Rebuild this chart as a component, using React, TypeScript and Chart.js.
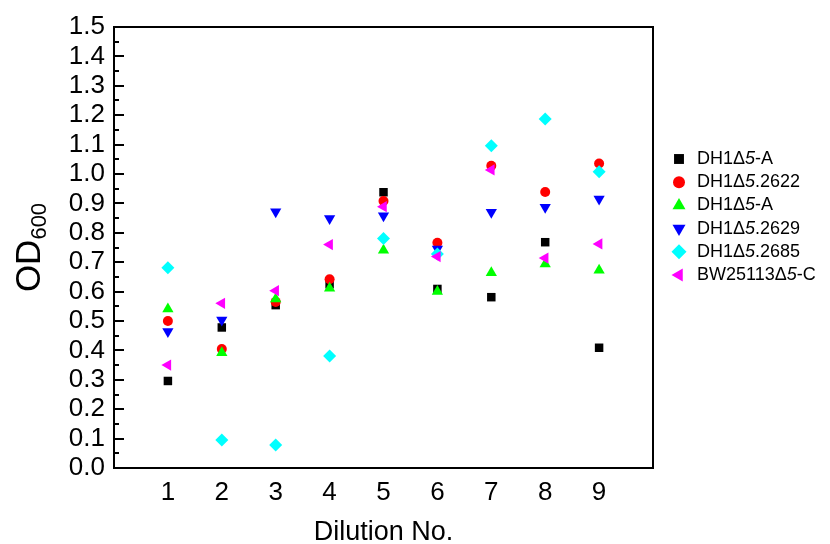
import React, { useEffect, useRef } from 'react';
import { Chart, registerables } from 'chart.js';
import { drawPoint } from 'chart.js/helpers';

Chart.register(...registerables);

// ---- Data ----
const dilutionNo = [1, 2, 3, 4, 5, 6, 7, 8, 9];
const dh1A = [0.296, 0.478, 0.554, 0.625, 0.938, 0.609, 0.581, 0.768, 0.409];
const dh1_2622 = [0.5, 0.405, 0.565, 0.642, 0.908, 0.766, 1.028, 0.939, 1.036];
const dh1A_b = [0.541, 0.392, 0.575, 0.611, 0.741, 0.6, 0.664, 0.694, 0.673];
const dh1_2629 = [0.464, 0.503, 0.872, 0.849, 0.858, 0.745, 0.87, 0.887, 0.915];
const dh1_2685 = [0.681, 0.095, 0.078, 0.381, 0.781, 0.728, 1.096, 1.187, 1.008];
const bw25113C = [0.35, 0.56, 0.603, 0.76, 0.889, 0.719, 1.014, 0.714, 0.762];

const seriesNames = ['DH1Δ5-A', 'DH1Δ5.2622', 'DH1Δ5-A', 'DH1Δ5.2629', 'DH1Δ5.2685', 'BW25113Δ5-C'];
const seriesValues = [dh1A, dh1_2622, dh1A_b, dh1_2629, dh1_2685, bw25113C];
const seriesColors = ['#000000', '#ff0000', '#00ff00', '#0000ff', '#00ffff', '#ff00ff'];
const seriesStyles = ['rect', 'circle', 'triangle', 'triangle', 'rectRot', 'triangle'];
const seriesRotation = [0, 0, 0, 180, 0, 270];
const seriesRadius = [6, 5, 6.5, 6.5, 6.5, 6.5];

const yTickLabels = ['0.0', '0.1', '0.2', '0.3', '0.4', '0.5', '0.6', '0.7', '0.8', '0.9', '1.0', '1.1', '1.2', '1.3', '1.4', '1.5'];
const xTickLabels = ['1', '2', '3', '4', '5', '6', '7', '8', '9'];

const FONT = "'Liberation Sans', Arial, sans-serif";

const decorPlugin = {
  id: 'decor',
  afterDraw(chart: any) {
    const ctx = chart.ctx;
    const { left, right, top, bottom } = chart.chartArea;
    const yScale = chart.scales.y;
    ctx.save();
    // frame
    ctx.strokeStyle = '#000';
    ctx.lineWidth = 2;
    ctx.strokeRect(left, top, right - left, bottom - top);
    // inward y ticks (major + minor)
    for (let i = 0; i <= 30; i++) {
      const py = Math.round(yScale.getPixelForValue(i * 0.05));
      const len = i % 2 === 0 ? 10 : 5;
      ctx.beginPath();
      ctx.moveTo(left, py);
      ctx.lineTo(left + len, py);
      ctx.stroke();
    }
    // x title
    ctx.fillStyle = '#000';
    ctx.font = `27px ${FONT}`;
    ctx.textAlign = 'center';
    ctx.textBaseline = 'alphabetic';
    ctx.fillText('Dilution No.', (left + right) / 2, 540);
    // y title OD600 with subscript
    ctx.save();
    const cy = (top + bottom) / 2;
    ctx.translate(40, cy);
    ctx.rotate(-Math.PI / 2);
    ctx.font = `35px ${FONT}`;
    const wMain = ctx.measureText('OD').width;
    ctx.font = `22px ${FONT}`;
    const wSub = ctx.measureText('600').width;
    const total = wMain + wSub;
    ctx.textAlign = 'left';
    ctx.font = `35px ${FONT}`;
    ctx.fillText('OD', -total / 2, 0);
    ctx.font = `22px ${FONT}`;
    ctx.fillText('600', -total / 2 + wMain, 6);
    ctx.restore();
    // legend
    const lx = 679;
    const tx = 697;
    const ly0 = 159;
    const dy = 23.2;
    ctx.textBaseline = 'middle';
    ctx.textAlign = 'left';
    seriesNames.forEach((name, i) => {
      const y = ly0 + dy * i;
      ctx.fillStyle = seriesColors[i];
      ctx.strokeStyle = seriesColors[i];
      drawPoint(ctx, {
        pointStyle: seriesStyles[i],
        rotation: seriesRotation[i],
        radius: seriesRadius[i] + 1,
        borderWidth: 0,
      } as any, lx, y);
      ctx.fillStyle = '#000';
      const idx = name.indexOf('Δ5');
      const pre = name.slice(0, idx + 1);
      const it = '5';
      const post = name.slice(idx + 2);
      let x = tx;
      ctx.font = `18px ${FONT}`;
      ctx.fillText(pre, x, y);
      x += ctx.measureText(pre).width;
      ctx.font = `italic 18px ${FONT}`;
      ctx.fillText(it, x, y);
      x += ctx.measureText(it).width;
      ctx.font = `18px ${FONT}`;
      ctx.fillText(post, x, y);
    });
    ctx.restore();
  },
};

export default function App() {
  const ref = useRef<HTMLCanvasElement | null>(null);
  useEffect(() => {
    if (!ref.current) return;
    const datasets = seriesNames.map((name, i) => ({
      label: name,
      data: dilutionNo.map((x, j) => ({ x, y: seriesValues[i][j] })),
      backgroundColor: seriesColors[i],
      borderColor: seriesColors[i],
      pointStyle: seriesStyles[i],
      rotation: seriesRotation[i],
      pointRadius: seriesRadius[i],
      pointBorderWidth: 0,
      showLine: false,
      order: seriesNames.length - i,
    }));
    const chart = new Chart(ref.current, {
      type: 'scatter',
      data: { datasets } as any,
      options: {
        animation: false,
        responsive: false,
        devicePixelRatio: 1,
        layout: { padding: { top: 27, right: 177, left: 0, bottom: 0 } },
        plugins: { legend: { display: false }, tooltip: { enabled: false } },
        scales: {
          x: {
            type: 'linear',
            min: 0,
            max: 10,
            grid: { display: false, drawTicks: false },
            border: { display: false },
            ticks: {
              stepSize: 1,
              autoSkip: false,
              maxRotation: 0,
              padding: 9,
              color: '#000',
              font: { family: FONT, size: 26 },
              callback: (v: any) => {
                const s = String(v);
                return xTickLabels.includes(s) ? s : '';
              },
            },
            afterFit: (s: any) => { s.height = 76; },
          },
          y: {
            type: 'linear',
            min: 0,
            max: 1.5,
            grid: { display: false, drawTicks: false },
            border: { display: false },
            ticks: {
              stepSize: 0.1,
              autoSkip: false,
              padding: 9,
              color: '#000',
              font: { family: FONT, size: 26 },
              callback: (v: any) => yTickLabels[Math.round(Number(v) * 10)] ?? '',
            },
            afterFit: (s: any) => { s.width = 114; },
          },
        },
      },
      plugins: [decorPlugin],
    } as any);
    return () => chart.destroy();
  }, []);
  return (
    <div style={{ position: 'fixed', left: 0, top: 0, width: 830, height: 544, background: '#fff' }}>
      <canvas ref={ref} width={830} height={544} />
    </div>
  );
}
